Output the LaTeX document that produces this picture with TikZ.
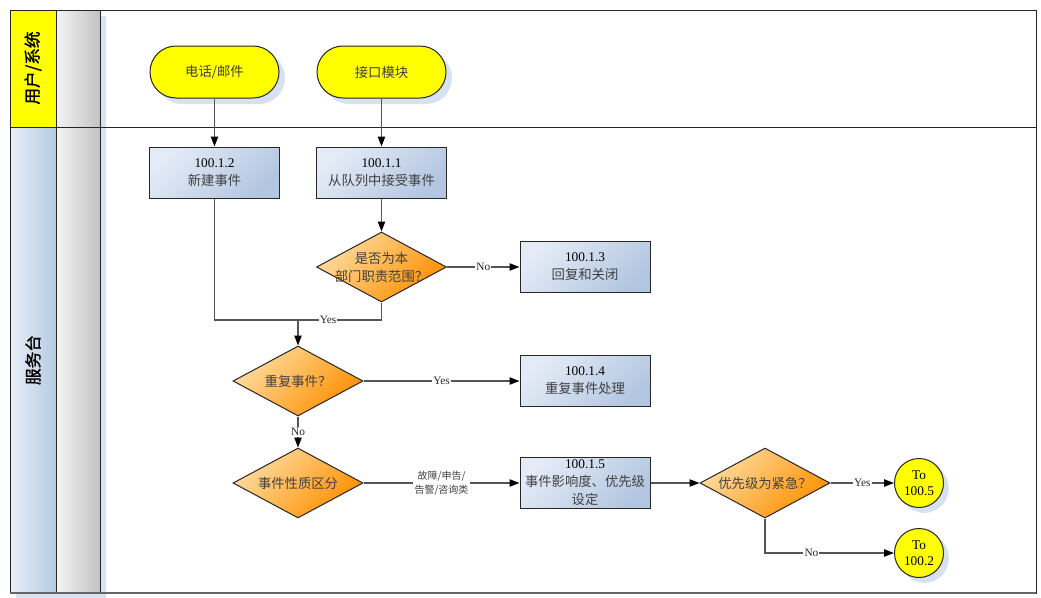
\documentclass[tikz,border=0pt]{standalone}
\usepackage{fontspec}
\setmainfont{Liberation Serif}
\newfontfamily\cjk{Noto Sans CJK SC}
\newfontfamily\cjkbold[FakeBold=1.2]{Noto Sans CJK SC}
\usetikzlibrary{shapes.geometric,arrows.meta,shadows}
\definecolor{termyellow}{HTML}{FFFF00}
\definecolor{boxlight}{HTML}{E4EBF6}
\definecolor{boxdark}{HTML}{B3C6E1}
\definecolor{dialight}{HTML}{FFDCA0}
\definecolor{diadark}{HTML}{FF8F00}
\definecolor{shadowblue}{HTML}{D6E1F1}
\definecolor{linegray}{HTML}{555555}
\definecolor{zhgray}{HTML}{404040}
\definecolor{lanelight}{HTML}{E8EEF7}
\definecolor{lanedark}{HTML}{B6CAE3}
\definecolor{graylight}{HTML}{F4F4F4}
\definecolor{graydark}{HTML}{C2C2C2}
\newcommand\zhtxt[1]{{\cjk\color{zhgray}#1}}
\begin{document}
\begin{tikzpicture}[x=0.75pt,y=-0.75pt,
  terminal/.style={draw=black!85, line width=0.75pt, fill=termyellow,
    minimum width=96.75pt, minimum height=39pt, rounded corners=19.5pt, inner sep=0pt,
    font=\cjk\fontsize{10}{12}\selectfont, text=zhgray,
    drop shadow={shadow xshift=4.5pt, shadow yshift=-4.5pt, fill=shadowblue, opacity=1}},
  procbox/.style={draw=black!85, line width=0.75pt, top color=boxlight, bottom color=boxdark,
    shading angle=45, minimum width=97.5pt, minimum height=38.25pt, inner sep=0pt,
    align=center, font=\fontsize{10}{13.5}\selectfont},
  decision/.style={diamond, draw=black!85, line width=0.75pt, top color=dialight, bottom color=diadark,
    shading angle=45, minimum width=97.5pt, minimum height=52.5pt, inner sep=0pt},
  dlabel/.style={align=center, font=\cjk\fontsize{10}{13.5}\selectfont, text=zhgray, inner sep=0pt},
  endcirc/.style={circle, draw=black!85, line width=0.75pt, fill=termyellow, minimum size=36.75pt,
    inner sep=0pt, align=center, font=\fontsize{10}{12}\selectfont,
    drop shadow={shadow xshift=4pt, shadow yshift=-4pt, fill=shadowblue, opacity=1}},
  plain/.style={draw=linegray, line width=1pt},
  conn/.style={plain, -{Triangle[length=7.5pt,width=5.5pt,color=black]}},
  lbl/.style={fill=white, inner sep=0.8pt, font=\fontsize{8.5}{9}\selectfont, text=black!85},
  zlbl/.style={fill=white, inner sep=1pt, align=center, font=\cjk\fontsize{7.5}{10}\selectfont, text=zhgray},
  lanetitle/.style={rotate=90, font=\cjkbold\fontsize{12.5}{14}\selectfont, text=black}
]
\useasboundingbox (0,0) rectangle (1041,597);
% swimlane frame
\fill[white] (100,10) rectangle (1036,593);
\fill[shadowblue] (16,16) rectangle (106,598);
\fill[termyellow] (10,10) rectangle (56,127);
\shade[left color=lanelight, right color=lanedark] (10,127) rectangle (56,593);
\shade[left color=graylight, right color=graydark] (56,10) rectangle (100,593);
\draw[black!85, line width=0.75pt] (10,10) rectangle (1036,593);
\draw[black!85, line width=0.75pt] (56,10) -- (56,593);
\draw[black!85, line width=0.75pt] (100,10) -- (100,593);
\draw[black!85, line width=0.75pt] (10,127) -- (1036,127);
\draw[black!60, line width=1.5pt] (10,593) -- (1036,593);
\node[lanetitle] (lane1) at (33,68) {用户/系统};
\node[lanetitle] (lane2) at (33,360) {服务台};
% nodes
\node[terminal] (tel) at (214.5,72) {电话/邮件};
\node[terminal] (api) at (381.5,72) {接口模块};
\node[procbox] (p2) at (214.5,172.5) {100.1.2\\\zhtxt{新建事件}};
\node[procbox] (p1) at (381.5,172.5) {100.1.1\\\zhtxt{从队列中接受事件}};
\node[decision, label={[dlabel]center:{是否为本\\部门职责范围？}}] (d1) at (381.5,267) {};
\node[procbox] (p3) at (585,267) {100.1.3\\\zhtxt{回复和关闭}};
\coordinate (j) at (298,320);
\node[decision, label={[dlabel]center:{重复事件？}}] (d2) at (298,381) {};
\node[procbox] (p4) at (585,381) {100.1.4\\\zhtxt{重复事件处理}};
\node[decision, label={[dlabel]center:{事件性质区分}}] (d3) at (298,483) {};
\node[procbox] (p5) at (585,483) {100.1.5\\\zhtxt{事件影响度、优先级}\\\zhtxt{设定}};
\node[decision, label={[dlabel]center:{优先级为紧急？}}] (d4) at (765,483) {};
\node[endcirc] (c1) at (919,483) {To\\100.5};
\node[endcirc] (c2) at (919,553) {To\\100.2};
% connectors
\draw[conn] (tel) -- (p2);
\draw[conn] (api) -- (p1);
\draw[conn] (p1) -- (d1);
\draw[conn] (d1) -- node[lbl]{No} (p3);
\draw[plain] (p2) |- (j);
\draw[plain] (d1) |- node[lbl,pos=0.82]{Yes} (j);
\draw[conn] (j) -- (d2);
\draw[conn] (d2) -- node[lbl]{Yes} (p4);
\draw[conn] (d2) -- node[lbl]{No} (d3);
\draw[conn] (d3) -- node[zlbl]{故障/申告/\\告警/咨询类} (p5);
\draw[conn] (p5) -- (d4);
\draw[conn] (d4) -- node[lbl]{Yes} (c1);
\draw[conn] (d4) |- node[lbl,pos=0.68]{No} (c2);
\end{tikzpicture}
\end{document}
